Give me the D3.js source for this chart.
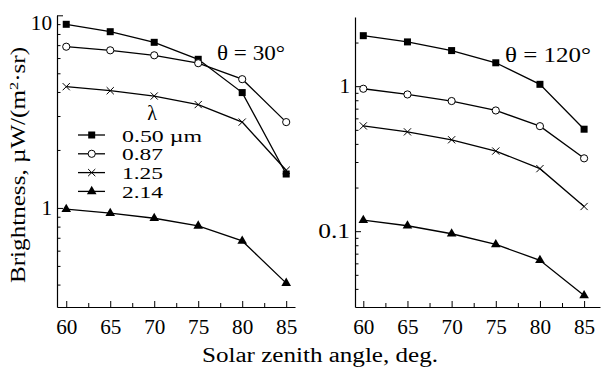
<!DOCTYPE html>
<html>
<head>
<meta charset="utf-8">
<script src="https://cdn.jsdelivr.net/npm/d3@7"></script>
<style>
  body { margin: 0; background: #fff; }
  svg { display: block; }
  text { font-family: "Liberation Serif", serif; fill: #000; }
</style>
</head>
<body>
<svg class="chart" width="601" height="367"></svg>
<script>
// zenith angles shared by both panels
const angles = [60, 65, 70, 75, 80, 85];
const wavelengths = ["0.50 µm", "0.87", "1.25", "2.14"];
const markerTypes = ["square", "circle", "cross", "triangle"];

// theta = 30 deg panel
const left050 = [8.98, 8.22, 7.24, 5.91, 3.97, 1.50];
const left087 = [6.87, 6.58, 6.20, 5.64, 4.66, 2.79];
const left125 = [4.26, 4.06, 3.81, 3.44, 2.79, 1.57];
const left214 = [0.985, 0.939, 0.884, 0.807, 0.674, 0.407];

// theta = 120 deg panel
const right050 = [2.23, 2.02, 1.76, 1.45, 1.03, 0.505];
const right087 = [0.96, 0.877, 0.79, 0.68, 0.53, 0.318];
const right125 = [0.532, 0.484, 0.427, 0.357, 0.27, 0.148];
const right214 = [0.119, 0.109, 0.096, 0.081, 0.063, 0.036];

const xTicks = [60, 65, 70, 75, 80, 85];
const xMinorTicks = [62.5, 67.5, 72.5, 77.5, 82.5];
const leftMajor = [1, 10];
const leftMinor = [0.4, 0.5, 0.6, 0.7, 0.8, 0.9, 2, 3, 4, 5, 6, 7, 8, 9];
const rightMajor = [0.1, 1];
const rightMinor = [0.04, 0.05, 0.06, 0.07, 0.08, 0.09, 0.2, 0.3, 0.4, 0.5, 0.6, 0.7, 0.8, 0.9, 2];

const FS = 20;
const svg = d3.select(".chart");

function marker(g, type, cx, cy){
    if(type === "square"){
        g.append("rect").attr("x", cx - 3.5).attr("y", cy - 3.5)
            .attr("width", 7).attr("height", 7).attr("fill", "#000");
    } else if(type === "circle"){
        g.append("circle").attr("cx", cx).attr("cy", cy).attr("r", 3.6)
            .attr("fill", "#fff").attr("stroke", "#000").attr("stroke-width", 1);
    } else if(type === "cross"){
        g.append("path")
            .attr("d", `M${cx-3.6},${cy-3.6}L${cx+3.6},${cy+3.6}M${cx-3.6},${cy+3.6}L${cx+3.6},${cy-3.6}`)
            .attr("stroke", "#000").attr("stroke-width", 1);
    } else {
        g.append("path")
            .attr("d", d3.symbol().type(d3.symbolTriangle).size(40)())
            .attr("transform", `translate(${cx},${cy})`)
            .attr("fill", "#000");
    }
}

function drawPanel(opts){
    const g = svg.append("g");
    const x = d3.scaleLinear().domain(opts.xDomain).range(opts.xRange);
    const y = d3.scaleLog().domain(opts.yDomain).range(opts.yRange);

    // x axis: major ticks with labels, minor ticks without
    g.append("g").attr("transform", `translate(0,${opts.yRange[0]})`)
        .call(d3.axisBottom(x).tickValues(xTicks).tickSizeInner(-6).tickSizeOuter(0).tickPadding(13).tickFormat(d3.format("d")))
        .call(a => a.select(".domain").attr("stroke-width", 1.2));
    g.append("g").attr("transform", `translate(0,${opts.yRange[0]})`)
        .call(d3.axisBottom(x).tickValues(xMinorTicks).tickSizeInner(-4).tickSizeOuter(0).tickFormat(""))
        .call(a => a.select(".domain").remove());

    // y axis
    g.append("g").attr("transform", `translate(${opts.xRange[0]},0)`)
        .call(d3.axisLeft(y).tickValues(opts.major).tickSizeInner(-6).tickSizeOuter(0).tickPadding(5).tickFormat(d => String(d)))
        .call(a => a.select(".domain").attr("stroke-width", 1.2))
        .call(a => a.selectAll(".tick text").filter(d => d === opts.yDomain[1]).attr("dy", "0.7em"));
    g.append("g").attr("transform", `translate(${opts.xRange[0]},0)`)
        .call(d3.axisLeft(y).tickValues(opts.minor).tickSizeInner(-3.5).tickSizeOuter(0).tickFormat(""))
        .call(a => a.select(".domain").remove());

    g.selectAll("g").attr("font-family", null).attr("font-size", null);
    g.selectAll(".tick text").style("font-size", FS + "px")
        .attr("textLength", d => String(d).length * 10.6).attr("lengthAdjust", "spacingAndGlyphs");

    const line = d3.line().x((d, i) => x(angles[i])).y(d => y(d));
    opts.series.forEach((s, k) => {
        g.append("path").attr("d", line(s)).attr("fill", "none")
            .attr("stroke", "#000").attr("stroke-width", 1.3);
        s.forEach((v, i) => marker(g, markerTypes[k], x(angles[i]), y(v)));
    });

    g.append("text").attr("x", opts.labelX).attr("y", opts.labelY)
        .style("font-size", FS + "px").attr("textLength", opts.labelW)
        .attr("lengthAdjust", "spacingAndGlyphs").text(opts.label);
}

drawPanel({
    xDomain: [58.95, 86], xRange: [57, 295],
    yDomain: [0.306, 10], yRange: [307, 15.3],
    major: leftMajor, minor: leftMinor,
    series: [left050, left087, left125, left214],
    label: "θ = 30°", labelX: 217, labelY: 60, labelW: 68
});

drawPanel({
    xDomain: [59.06, 86.8], xRange: [355, 600],
    yDomain: [0.03, 3], yRange: [307, 17],
    major: rightMajor, minor: rightMinor,
    series: [right050, right087, right125, right214],
    label: "θ = 120°", labelX: 505, labelY: 62, labelW: 86
});

// legend
const legendW = [80, 41, 41, 41];
const legend = svg.append("g");
legend.append("text").attr("x", 152).attr("y", 120).attr("text-anchor", "middle")
    .style("font-size", FS + "px").text("λ");
wavelengths.forEach((w, i) => {
    const ly = 135 + i * 18.8;
    legend.append("line").attr("x1", 78).attr("x2", 105).attr("y1", ly).attr("y2", ly)
        .attr("stroke", "#000").attr("stroke-width", 1.3);
    marker(legend, markerTypes[i], 91.7, ly);
    legend.append("text").attr("x", 122).attr("y", ly + 6.5).style("font-size", "16.5px")
        .attr("textLength", legendW[i]).attr("lengthAdjust", "spacingAndGlyphs").text(w);
});

// axis titles
svg.append("text").attr("x", 320).attr("y", 362).attr("text-anchor", "middle")
    .style("font-size", FS + "px").attr("textLength", 236).attr("lengthAdjust", "spacingAndGlyphs")
    .text("Solar zenith angle, deg.");

const yTitle = svg.append("text").attr("transform", "translate(25,165) rotate(-90)")
    .attr("text-anchor", "middle").style("font-size", FS + "px")
    .attr("textLength", 236).attr("lengthAdjust", "spacingAndGlyphs");
yTitle.append("tspan").text("Brightness, µW/(m");
yTitle.append("tspan").attr("dy", -7).style("font-size", "13px").text("2");
yTitle.append("tspan").attr("dy", 7).text("·sr)");
</script>
</body>
</html>
